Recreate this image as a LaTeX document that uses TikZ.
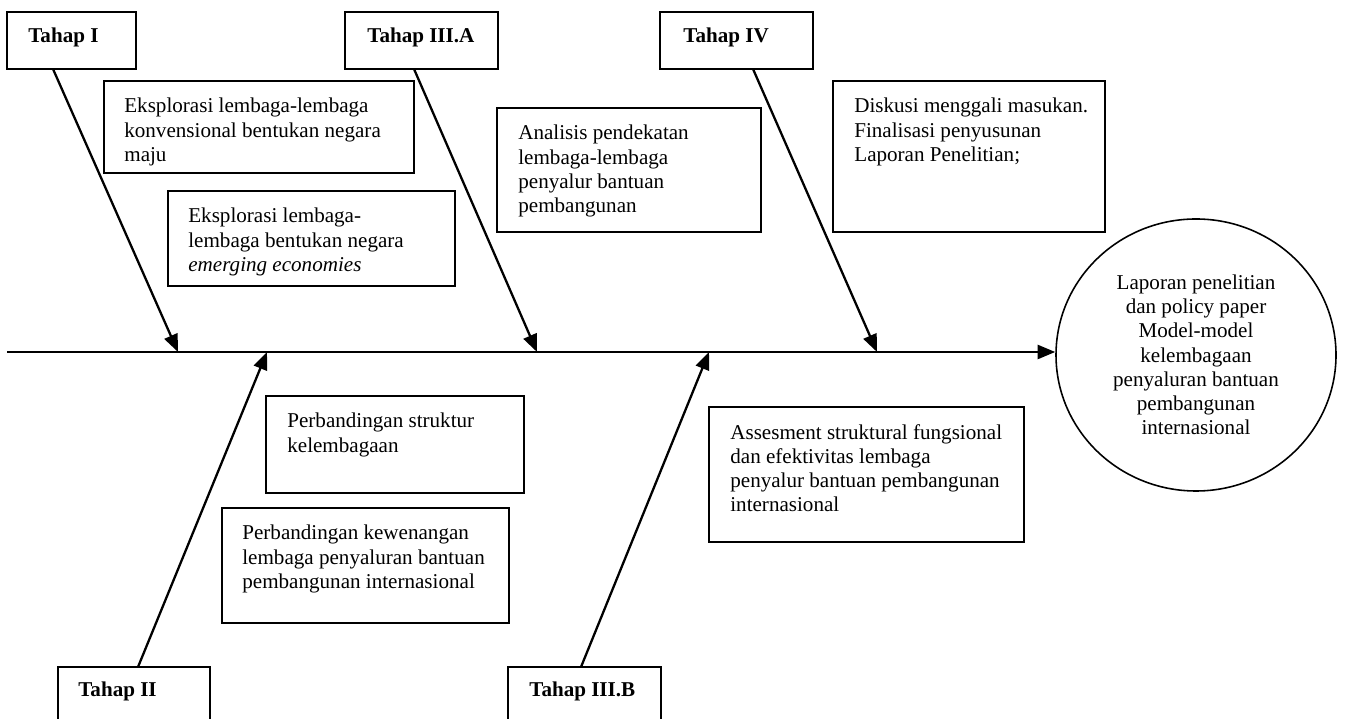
\documentclass[tikz,border=0pt]{standalone}
\usepackage{fontspec}
\setmainfont{Liberation Serif}
\usepackage{tikz}
\usetikzlibrary{positioning,calc,shapes.geometric,arrows.meta}

\tikzset{
  kotak/.style={draw, line width=1pt, inner sep=0pt, outer sep=0pt, anchor=north west},
  isi/.style={inner sep=0pt, align=left, font=\fontsize{12}{13.8}\selectfont},
  judul/.style={isi, font=\fontsize{12}{13.8}\selectfont\bfseries},
  panah/.style={line width=1.3pt, -{Triangle[length=10pt,width=8pt]}}
}

\begin{document}
\begin{tikzpicture}
    \useasboundingbox (0,0) rectangle (27.14,14.38);

    % Spine and result
    \coordinate (spine) at (0.14,7.34);
    \node[ellipse, draw, line width=0.9pt, minimum width=5.6cm, minimum height=5.44cm,
          align=center, font=\fontsize{12}{13.8}\selectfont] (hasil) at (23.92,7.28)
        {Laporan penelitian\\dan policy paper\\Model-model\\kelembagaan\\penyaluran bantuan\\pembangunan\\internasional};
    \draw[panah] (spine) -- (spine -| hasil.west);

    % Points on the spine
    \coordinate (s1) at (3.56,7.34);
    \coordinate (s2) at (5.34,7.34);
    \coordinate (s3a) at (10.74,7.34);
    \coordinate (s3b) at (14.18,7.34);
    \coordinate (s4) at (17.54,7.34);

    % Stage boxes
    \node[kotak, minimum width=2.58cm, minimum height=1.14cm] (t1) at (0.14,14.14) {};
    \node[judul, below right=0.32cm and 0.42cm of t1.north west] (t1txt) {Tahap I};
    \node[kotak, minimum width=3.06cm, minimum height=1.14cm] (t3a) at (6.90,14.14) {};
    \node[judul, below right=0.32cm and 0.44cm of t3a.north west] (t3atxt) {Tahap III.A};
    \node[kotak, minimum width=3.06cm, minimum height=1.14cm] (t4) at (13.20,14.14) {};
    \node[judul, below right=0.32cm and 0.46cm of t4.north west] (t4txt) {Tahap IV};
    \node[kotak, minimum width=3.04cm, minimum height=1.14cm] (t2) at (1.16,1.04) {};
    \node[judul, below right=0.30cm and 0.40cm of t2.north west] (t2txt) {Tahap II};
    \node[kotak, minimum width=3.06cm, minimum height=1.14cm] (t3b) at (10.16,1.04) {};
    \node[judul, below right=0.30cm and 0.42cm of t3b.north west] (t3btxt) {Tahap III.B};

    % Bones
    \draw[panah] ([xshift=0.92cm]t1.south west) -- (s1);
    \draw[panah] ([xshift=1.38cm]t3a.south west) -- (s3a);
    \draw[panah] ([xshift=1.86cm]t4.south west) -- (s4);
    \draw[panah] ([xshift=1.60cm]t2.north west) -- (s2);
    \draw[panah] ([xshift=1.46cm]t3b.north west) -- (s3b);

    % Activity boxes above the spine
    \node[kotak, minimum width=6.2cm, minimum height=1.84cm] (b1) at (2.08,12.76) {};
    \node[isi, below right=0.34cm and 0.4cm of b1.north west] (b1txt)
        {Eksplorasi lembaga-lembaga\\konvensional bentukan negara\\maju};
    \node[kotak, minimum width=5.74cm, minimum height=1.9cm] (b2) at (3.36,10.56) {};
    \node[isi, below right=0.34cm and 0.4cm of b2.north west] (b2txt)
        {Eksplorasi lembaga-\\lembaga bentukan negara\\\textit{emerging economies}};
    \node[kotak, minimum width=5.28cm, minimum height=2.48cm] (b3) at (9.94,12.22) {};
    \node[isi, below right=0.34cm and 0.42cm of b3.north west] (b3txt)
        {Analisis pendekatan\\lembaga-lembaga\\penyalur bantuan\\pembangunan};
    \node[kotak, minimum width=5.44cm, minimum height=3.02cm] (b4) at (16.66,12.76) {};
    \node[isi, below right=0.34cm and 0.42cm of b4.north west] (b4txt)
        {Diskusi menggali masukan.\\Finalisasi penyusunan\\Laporan Penelitian;};

    % Activity boxes below the spine
    \node[kotak, minimum width=5.16cm, minimum height=1.94cm] (b5) at (5.32,6.46) {};
    \node[isi, below right=0.34cm and 0.42cm of b5.north west] (b5txt)
        {Perbandingan struktur\\kelembagaan};
    \node[kotak, minimum width=5.74cm, minimum height=2.3cm] (b6) at (4.44,4.22) {};
    \node[isi, below right=0.34cm and 0.4cm of b6.north west] (b6txt)
        {Perbandingan kewenangan\\lembaga penyaluran bantuan\\pembangunan internasional};
    \node[kotak, minimum width=6.3cm, minimum height=2.7cm] (b7) at (14.18,6.24) {};
    \node[isi, below right=0.34cm and 0.42cm of b7.north west] (b7txt)
        {Assesment struktural fungsional\\dan efektivitas lembaga\\penyalur bantuan pembangunan\\internasional};
\end{tikzpicture}
\end{document}
